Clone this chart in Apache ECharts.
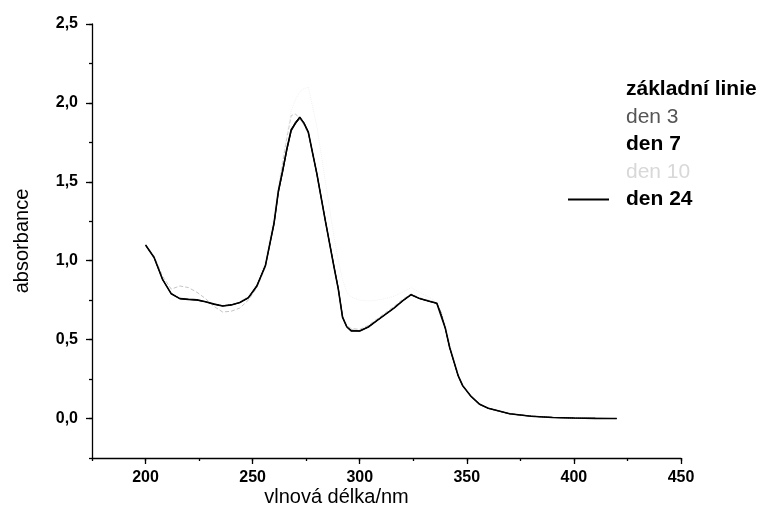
<!DOCTYPE html>
<html>
<head>
<meta charset="utf-8">
<script src="https://cdn.jsdelivr.net/npm/echarts@6/dist/echarts.min.js"></script>
<style>
  html, body { margin: 0; padding: 0; background: #fff; }
  #spectrum { width: 766px; height: 514px; }
</style>
</head>
<body>
<div id="spectrum"></div>
<script>
// vlnové délky (nm)
const wavelength = [200, 204, 208, 212, 216, 220, 224, 228, 232, 236, 240, 244, 248, 252, 256, 260, 262, 264, 266, 268,
  270, 272, 274, 276, 280, 284, 288, 290, 292, 294, 296, 300, 304, 308, 312, 316, 320, 324, 328, 332,
  336, 338, 340, 342, 344, 346, 348, 352, 356, 360, 370, 380, 390, 400, 410, 420]

const zakladniLinie = [1.10, 1.02, 0.88, 0.79, 0.76, 0.755, 0.75, 0.74, 0.725, 0.715, 0.72, 0.735, 0.765, 0.84, 0.97, 1.23, 1.43, 1.56, 1.70, 1.82,
  1.87, 1.90, 1.87, 1.81, 1.55, 1.25, 0.96, 0.82, 0.64, 0.58, 0.56, 0.555, 0.58, 0.62, 0.66, 0.70, 0.745, 0.785, 0.76, 0.745,
  0.73, 0.66, 0.57, 0.45, 0.36, 0.27, 0.21, 0.14, 0.09, 0.065, 0.03, 0.015, 0.007, 0.003, 0.001, 0.0]
const den3 = [1.10, 1.03, 0.90, 0.82, 0.84, 0.83, 0.80, 0.76, 0.71, 0.675, 0.68, 0.70, 0.75, 0.83, 0.96, 1.25, 1.45, 1.62, 1.78, 1.92,
  1.93, 1.90, 1.86, 1.80, 1.54, 1.24, 0.96, 0.82, 0.65, 0.59, 0.57, 0.565, 0.59, 0.63, 0.67, 0.71, 0.755, 0.79, 0.765, 0.75,
  0.735, 0.67, 0.575, 0.455, 0.36, 0.27, 0.21, 0.14, 0.09, 0.065, 0.03, 0.015, 0.007, 0.003, 0.001, 0.0]
const den7 = [1.10, 1.02, 0.88, 0.795, 0.76, 0.755, 0.752, 0.74, 0.725, 0.713, 0.72, 0.735, 0.765, 0.845, 0.975, 1.24, 1.44, 1.57, 1.71, 1.83,
  1.88, 1.91, 1.875, 1.815, 1.55, 1.25, 0.965, 0.825, 0.645, 0.58, 0.555, 0.555, 0.58, 0.62, 0.66, 0.70, 0.745, 0.785, 0.76, 0.745,
  0.73, 0.67, 0.57, 0.45, 0.36, 0.27, 0.21, 0.14, 0.09, 0.065, 0.03, 0.015, 0.007, 0.003, 0.001, 0.0]
const den10 = [1.10, 1.02, 0.88, 0.80, 0.77, 0.76, 0.755, 0.745, 0.73, 0.72, 0.72, 0.74, 0.78, 0.86, 1.00, 1.30, 1.48, 1.65, 1.80, 1.95,
  2.02, 2.07, 2.09, 2.10, 1.85, 1.50, 1.15, 1.00, 0.88, 0.80, 0.77, 0.75, 0.745, 0.75, 0.76, 0.775, 0.80, 0.83, 0.80, 0.77,
  0.74, 0.68, 0.60, 0.48, 0.38, 0.28, 0.22, 0.14, 0.09, 0.065, 0.03, 0.015, 0.007, 0.003, 0.001, 0.0]
const den24 = [1.10, 1.02, 0.88, 0.79, 0.76, 0.755, 0.752, 0.74, 0.725, 0.713, 0.72, 0.735, 0.765, 0.84, 0.97, 1.24, 1.44, 1.57, 1.71, 1.83,
  1.87, 1.91, 1.87, 1.815, 1.55, 1.25, 0.96, 0.82, 0.64, 0.58, 0.555, 0.555, 0.58, 0.62, 0.66, 0.70, 0.745, 0.785, 0.76, 0.745,
  0.73, 0.65, 0.57, 0.45, 0.36, 0.27, 0.21, 0.14, 0.09, 0.065, 0.03, 0.015, 0.007, 0.003, 0.001, 0.0]

// popisky os
const xTickLabels = ['175', '200', '225', '250', '275', '300', '325', '350', '375', '400', '425', '450']
const yTickLabels = ['-0,25', '0,0', '0,25', '0,5', '0,75', '1,0', '1,25', '1,5', '1,75', '2,0', '2,25', '2,5']

function pairs(ys) {
  return wavelength.map((x, i) => [x, ys[i]])
}

let myChart = echarts.init(document.getElementById('spectrum'))
const font = 'Liberation Sans, Arial, sans-serif'
const hidden = { itemStyle: { opacity: 0 }, lineStyle: { opacity: 0 } }
const majorOnly = (i) => i % 2 === 1

myChart.setOption({
  animation: false,
  textStyle: { fontFamily: font, color: '#000' },
  grid: { left: 92, right: 85, top: 24, bottom: 56 },
  legend: {
    orient: 'vertical',
    left: 567,
    top: 79,
    padding: 0,
    itemWidth: 41,
    itemHeight: 21,
    itemGap: 6.5,
    textStyle: { fontSize: 21, fontWeight: 'bold', color: '#000', padding: [0, 0, 0, 12] },
    data: [
      Object.assign({ name: 'základní linie' }, hidden),
      Object.assign({ name: 'den 3', textStyle: { fontWeight: 'normal', color: '#555' } }, hidden),
      Object.assign({ name: 'den 7' }, hidden),
      Object.assign({ name: 'den 10', textStyle: { fontWeight: 'normal', color: '#d8d8d8' } }, hidden),
      { name: 'den 24', itemStyle: { opacity: 0 } }
    ]
  },
  xAxis: [
    {
      // drobné dílky + osa
      type: 'value',
      min: 175,
      max: 450,
      interval: 25,
      axisLine: { show: true, onZero: false, lineStyle: { color: '#000', width: 1.3 } },
      axisTick: { length: 3, lineStyle: { color: '#000', width: 1.3 } },
      axisLabel: { show: false },
      splitLine: { show: false },
      name: 'vlnová délka/nm',
      nameLocation: 'middle',
      nameGap: 29,
      nameTextStyle: { fontSize: 20, color: '#000', padding: [0, 100, 0, 0] }
    },
    {
      // hlavní dílky a popisky
      type: 'category',
      position: 'bottom',
      data: xTickLabels,
      boundaryGap: false,
      axisLine: { show: false, onZero: false },
      axisTick: { length: 6, interval: majorOnly, lineStyle: { color: '#000', width: 1.3 } },
      axisLabel: { interval: majorOnly, fontSize: 16, fontWeight: 'bold', color: '#000', margin: 12 }
    }
  ],
  yAxis: [
    {
      type: 'value',
      min: -0.25,
      max: 2.5,
      interval: 0.25,
      axisLine: { show: true, onZero: false, lineStyle: { color: '#000', width: 1.3 } },
      axisTick: { length: 3, lineStyle: { color: '#000', width: 1.3 } },
      axisLabel: { show: false },
      splitLine: { show: false },
      name: 'absorbance',
      nameLocation: 'middle',
      nameGap: 60,
      nameTextStyle: { fontSize: 20, color: '#000' }
    },
    {
      type: 'category',
      position: 'left',
      data: yTickLabels,
      boundaryGap: false,
      axisLine: { show: false, onZero: false },
      axisTick: { length: 6, interval: majorOnly, lineStyle: { color: '#000', width: 1.3 } },
      axisLabel: { interval: majorOnly, fontSize: 16, fontWeight: 'bold', color: '#000', margin: 14 }
    }
  ],
  series: [
    { name: 'základní linie', type: 'line', symbol: 'none', data: pairs(zakladniLinie),
      itemStyle: { color: '#111' }, lineStyle: { color: '#111', width: 1 } },
    { name: 'den 3', type: 'line', symbol: 'none', data: pairs(den3),
      itemStyle: { color: '#c4c4c4' }, lineStyle: { color: '#c4c4c4', width: 1, type: 'dashed' } },
    { name: 'den 7', type: 'line', symbol: 'none', data: pairs(den7),
      itemStyle: { color: '#222' }, lineStyle: { color: '#222', width: 1 } },
    { name: 'den 10', type: 'line', symbol: 'none', data: pairs(den10),
      itemStyle: { color: '#f0f0f0' }, lineStyle: { color: '#f0f0f0', width: 1, type: 'dotted' } },
    { name: 'den 24', type: 'line', symbol: 'none', data: pairs(den24),
      itemStyle: { color: '#000' }, lineStyle: { color: '#000', width: 1.6 } }
  ]
})
</script>
</body>
</html>
